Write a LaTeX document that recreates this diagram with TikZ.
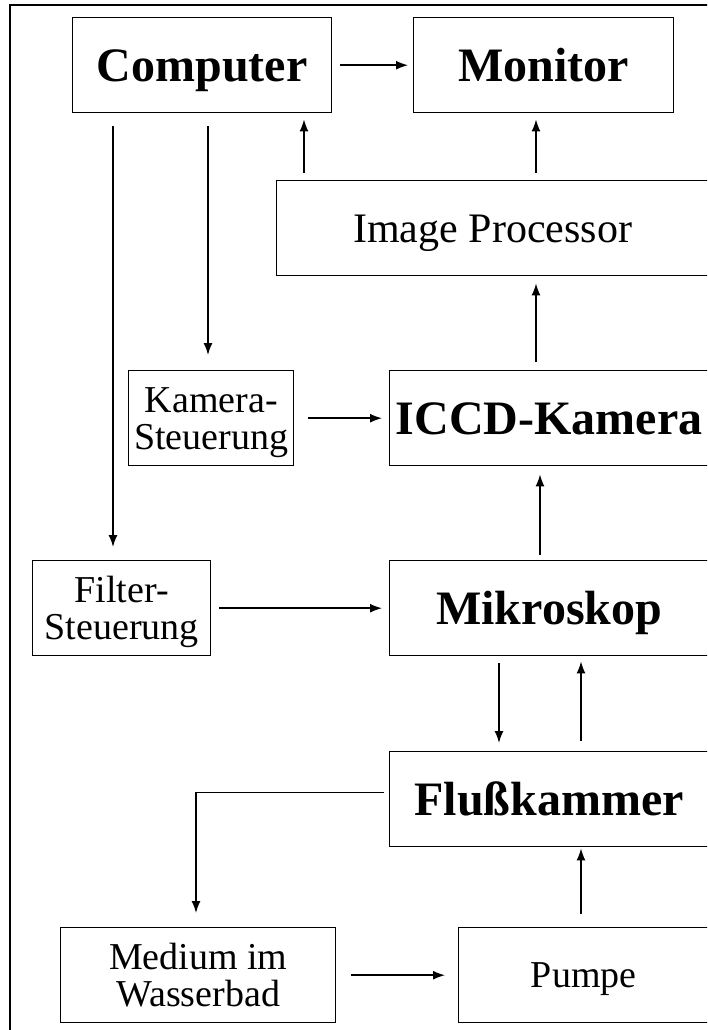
\documentclass[tikz,border=0pt]{standalone}
\usepackage{fontspec}
\setmainfont{Liberation Serif}
\usetikzlibrary{arrows.meta}

\begin{document}
\begin{tikzpicture}[x=1pt,y=-1pt,
        blk/.style={draw,line width=1.4pt,inner sep=0pt,anchor=north west,align=center,minimum height=95,text height=32pt,text depth=0pt,font=\fontsize{48}{48}\selectfont\bfseries},
        lbl/.style={blk,text height=62pt,font=\fontsize{38}{37}\selectfont},
        pfeil/.style={-{Latex[length=12pt,width=9pt]},line width=1.5pt}]
        \useasboundingbox (0,0) rectangle (707,1030);
        \clip (0,0) rectangle (707,1030);
        \draw[line width=2pt] (10,5) rectangle (730,1050);
        \node[blk,minimum width=259] (computer) at (72,17) {Computer};
        \node[blk,minimum width=260] (monitor) at (413,17) {Monitor};
        \node[lbl,minimum width=432,text height=28pt,font=\fontsize{42}{42}\selectfont] (imgproc) at (276,180) {Image Processor};
        \node[lbl,minimum width=165] (kamst) at (128,370) {Kamera-\\Steuerung};
        \node[blk,minimum width=319] (iccd) at (389,370) {ICCD-Kamera};
        \node[lbl,minimum width=178] (filst) at (32,560) {Filter-\\Steuerung};
        \node[blk,minimum width=319] (mikro) at (389,560) {Mikroskop};
        \node[blk,minimum width=319] (fluss) at (389,751) {Flußkammer};
        \node[lbl,minimum width=275] (medium) at (60,927) {Medium im\\Wasserbad};
        \node[lbl,minimum width=250,text height=25pt] (pumpe) at (458,927) {Pumpe};
        \draw[pfeil] ([xshift=8pt]computer.east) -- ([xshift=-5pt]monitor.west);
        \draw[pfeil] ([shift={(41,13)}]computer.south west) -- ([shift={(81,-13)}]filst.north west);
        \draw[pfeil] ([shift={(136,13)}]computer.south west) -- ([shift={(80,-15)}]kamst.north west);
        \draw[pfeil] ([shift={(28,-7)}]imgproc.north west) -- ([shift={(232,6)}]computer.south west);
        \draw[pfeil] ([shift={(260,-7)}]imgproc.north west) -- ([shift={(123,6)}]monitor.south west);
        \draw[pfeil] ([shift={(147,-8)}]iccd.north west) -- ([shift={(260,7)}]imgproc.south west);
        \draw[pfeil] ([xshift=14pt]kamst.east) -- ([xshift=-7pt]iccd.west);
        \draw[pfeil] ([shift={(151,-5)}]mikro.north west) -- ([shift={(151,8)}]iccd.south west);
        \draw[pfeil] ([xshift=8pt]filst.east) -- ([xshift=-7pt]mikro.west);
        \draw[pfeil] ([shift={(110,7)}]mikro.south west) -- ([shift={(110,-8)}]fluss.north west);
        \draw[pfeil] ([shift={(192,-10)}]fluss.north west) -- ([shift={(192,5)}]mikro.south west);
        \draw[pfeil] ([shift={(-5,-6.5)}]fluss.west) -| ([shift={(136,-14)}]medium.north west);
        \draw[pfeil] ([shift={(123,-13)}]pumpe.north west) -- ([shift={(192,1)}]fluss.south west);
        \draw[pfeil] ([xshift=15pt]medium.east) -- ([xshift=-13pt]pumpe.west);
    \end{tikzpicture}
\end{document}
